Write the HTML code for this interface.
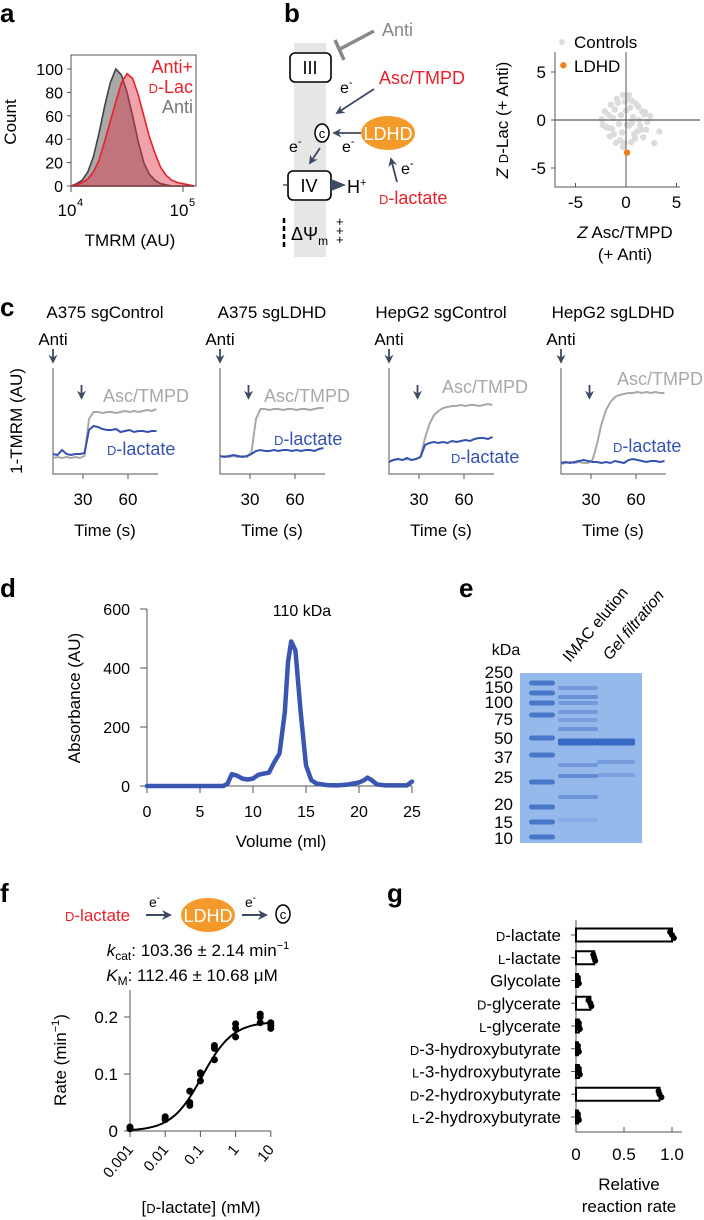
<!DOCTYPE html>
<html><head><meta charset="utf-8"><style>
html,body{margin:0;padding:0;background:#fff}
svg{display:block;font-family:"Liberation Sans",Arial,sans-serif}
</style></head><body>
<svg id="fig" width="704" height="1220" viewBox="0 0 704 1220">
<defs>
<marker id="ah" viewBox="0 0 10 10" refX="8" refY="5" markerWidth="5" markerHeight="5" orient="auto"><path d="M0,0 L10,5 L0,10 L3,5 z" fill="#3d4a63"/></marker>
</defs>
<g font-weight="bold" font-size="26" fill="#000">
<text x="0" y="22">a</text>
<text x="284" y="22">b</text>
<text x="0" y="316">c</text>
<text x="0" y="597">d</text>
<text x="459" y="597">e</text>
<text x="0" y="902">f</text>
<text x="387" y="902">g</text>
</g>

<g id="pa" font-size="16">
<text x="193" y="73" text-anchor="end" fill="#e8202a" font-size="18">Anti+</text>
<text x="193" y="93" text-anchor="end" fill="#e8202a" font-size="18"><tspan font-size="13">D</tspan>-Lac</text>
<text x="193" y="113" text-anchor="end" fill="#777" font-size="18">Anti</text>
<text x="130" y="246" text-anchor="middle" font-size="17">TMRM (AU)</text>
<text transform="translate(16,122) rotate(-90)" text-anchor="middle" font-size="17">Count</text>
</g>

<g id="pb" font-size="18">
<rect x="294" y="43" width="32" height="214" fill="#e6e6e6"/>
<rect x="290" y="53" width="41" height="29" rx="5" fill="#fff" stroke="#000" stroke-width="1.6"/>
<text x="310" y="74" text-anchor="middle">III</text>
<rect x="288" y="171" width="43" height="29" rx="5" fill="#fff" stroke="#000" stroke-width="1.6"/>
<text x="309" y="192" text-anchor="middle">IV</text>
<line x1="283" y1="185" x2="288" y2="185" stroke="#333" stroke-width="1.2"/>
<text x="382" y="36" fill="#888">Anti</text>
<line x1="374" y1="31" x2="340" y2="49" stroke="#888" stroke-width="3.5"/>
<line x1="335" y1="40" x2="344" y2="60" stroke="#888" stroke-width="3.5"/>
<text x="379" y="84" fill="#e8202a">Asc/TMPD</text>
<text x="340" y="93" font-size="16">e<tspan dy="-7" font-size="11">-</tspan></text>
<line x1="374" y1="89" x2="337" y2="113" stroke="#3d4a63" stroke-width="1.8" marker-end="url(#ah)"/>
<ellipse cx="322" cy="133" rx="7" ry="9" fill="#fff" stroke="#000" stroke-width="1.5"/>
<text x="322" y="138" text-anchor="middle" font-size="13">c</text>
<ellipse cx="388" cy="133" rx="27" ry="17" fill="#f39a2b"/>
<text x="388" y="140" text-anchor="middle" fill="#fff">LDHD</text>
<line x1="361" y1="133" x2="334" y2="133" stroke="#3d4a63" stroke-width="1.8" marker-end="url(#ah)"/>
<text x="289" y="152" font-size="16">e<tspan dy="-7" font-size="11">-</tspan></text>
<text x="342" y="152" font-size="16">e<tspan dy="-7" font-size="11">-</tspan></text>
<line x1="320" y1="148" x2="310" y2="163" stroke="#3d4a63" stroke-width="1.8" marker-end="url(#ah)"/>
<text x="401" y="174" font-size="16">e<tspan dy="-7" font-size="11">-</tspan></text>
<line x1="397" y1="182" x2="391" y2="159" stroke="#3d4a63" stroke-width="1.8" marker-end="url(#ah)"/>
<text x="379" y="204" fill="#e8202a"><tspan font-size="13">D</tspan>-lactate</text>
<path d="M331,179 L346,185 L331,191 z" fill="#3d4a63"/>
<text x="347" y="193">H<tspan dy="-7" font-size="11">+</tspan></text>
<line x1="284" y1="218" x2="284" y2="248" stroke="#000" stroke-width="2.5" stroke-dasharray="5,3"/>
<text x="291" y="240">ΔΨ<tspan dy="5" font-size="12">m</tspan></text>
<text x="336" y="226" font-size="13">+</text>
<text x="336" y="235" font-size="13">+</text>
<text x="336" y="244" font-size="13">+</text>
</g>

<g id="psc" font-size="17">
<circle cx="562" cy="42" r="3" fill="#ddd"/>
<text x="574" y="48">Controls</text>
<text x="574" y="72">LDHD</text>
<text transform="translate(508,120) rotate(-90)" text-anchor="middle"><tspan font-style="italic">Z</tspan> <tspan font-size="13">D</tspan>-Lac (+ Anti)</text>
<text x="625" y="238" text-anchor="middle"><tspan font-style="italic">Z</tspan> Asc/TMPD</text>
<text x="625" y="260" text-anchor="middle">(+ Anti)</text>
</g>

<g id="pc" font-size="17">
<text transform="translate(22,421) rotate(-90)" text-anchor="middle">1-TMRM (AU)</text>
</g>

<g id="pd" font-size="16">
<text x="302" y="616" text-anchor="middle">110 kDa</text>
<text x="281" y="847" text-anchor="middle" font-size="17">Volume (ml)</text>
<text transform="translate(80,698) rotate(-90)" text-anchor="middle" font-size="17">Absorbance (AU)</text>
</g>

<g id="pe" font-size="16">
<rect x="520" y="673" width="122" height="170" fill="#95b9ea"/>
<text x="506" y="655" text-anchor="middle">kDa</text>
<text transform="translate(570,663) rotate(-50)">IMAC elution</text>
<text transform="translate(610,661) rotate(-50)" font-style="italic">Gel filtration</text>
</g>

<g id="pf" font-size="17">
<text x="65" y="921" fill="#e8202a"><tspan font-size="13">D</tspan>-lactate</text>
<line x1="146" y1="915" x2="170" y2="915" stroke="#3d4a63" stroke-width="2" marker-end="url(#ah)"/>
<text x="149" y="907" font-size="14">e<tspan dy="-6" font-size="10">-</tspan></text>
<ellipse cx="208" cy="915" rx="27" ry="17" fill="#f39a2b"/>
<text x="208" y="922" text-anchor="middle" fill="#fff" font-size="18">LDHD</text>
<line x1="242" y1="915" x2="266" y2="915" stroke="#3d4a63" stroke-width="2" marker-end="url(#ah)"/>
<text x="245" y="907" font-size="14">e<tspan dy="-6" font-size="10">-</tspan></text>
<ellipse cx="283" cy="914" rx="7" ry="9" fill="#fff" stroke="#000" stroke-width="1.5"/>
<text x="283" y="919" text-anchor="middle" font-size="13">c</text>
<text x="198" y="956" text-anchor="middle"><tspan font-style="italic">k</tspan><tspan dy="4" font-size="12">cat</tspan><tspan dy="-4">: 103.36 ± 2.14 min</tspan><tspan dy="-7" font-size="11">−1</tspan></text>
<text x="192" y="981" text-anchor="middle"><tspan font-style="italic">K</tspan><tspan dy="4" font-size="12">M</tspan><tspan dy="-4">: 112.46 ± 10.68 μM</tspan></text>
<text x="201" y="1213" text-anchor="middle">[<tspan font-size="13">D</tspan>-lactate] (mM)</text>
<text transform="translate(66,1060) rotate(-90)" text-anchor="middle">Rate (min<tspan dy="-7" font-size="11">−1</tspan><tspan dy="7">)</tspan></text>
</g>

<g id="pg" font-size="17">
<text x="629" y="1190" text-anchor="middle">Relative</text>
<text x="629" y="1212" text-anchor="middle">reaction rate</text>
</g>
</svg>
<script>
// panel a
const histBins = [4.0,4.05,4.1,4.15,4.2,4.25,4.3,4.35,4.4,4.45,4.5,4.55,4.6,4.65,4.7,4.75,4.8,4.85,4.9,4.95,5.0,5.05,5.1];
const histAnti = [0,2,5,12,25,45,68,88,100,95,80,60,38,20,10,5,2,1,0,0,0,0,0];
const histAntiDLac = [0,1,3,6,12,22,38,55,72,88,96,92,78,60,42,28,16,9,5,3,2,1,0];
const histYTicks = [0,20,40,60,80,100];
// panel b scatter
const ctrlX = [-2.4,-2.1,-1.8,-1.5,-1.2,-0.9,-0.6,-0.3,0,0.3,0.6,0.9,1.2,1.5,1.8,2.1,-2.0,-1.6,-1.1,-0.7,-0.2,0.2,0.7,1.1,1.6,2.0,-1.7,-1.3,-0.8,-0.4,0.1,0.5,1.0,1.4,1.9,-1.0,-0.5,0.4,0.8,1.3,-1.4,-0.1,0.6,3.3,2.8,-0.3,0.3,-2.3,2.4,1.7];
const ctrlY = [0.1,0.9,-0.8,1.6,-1.5,2.2,-2.1,2.6,1.0,-0.6,2.0,-1.9,1.4,-1.0,0.6,-0.2,-0.7,-1.7,1.1,-0.4,-2.4,2.2,0.3,-1.2,0.9,-1.0,0.5,0.2,1.8,-1.3,-0.5,-2.3,1.7,-0.6,0.8,-2.4,0.5,1.3,-1.5,0.0,-0.9,1.9,-0.3,-1.2,-2.4,-2.8,2.6,-0.5,0.4,-1.8];
const ldhdX = [-6.2,0.1];
const ldhdY = [5.7,-3.4];
const scYTicks = [-5,0,5];
const scXTicks = [-5,0,5];
// panel c
const cTitles = ["A375 sgControl","A375 sgLDHD","HepG2 sgControl","HepG2 sgLDHD"];
const cTime = [10,13,16,19,22,25,28,31,34,37,40,43,46,49,52,55,58,61,64,67,70,73,76,79];
const ascTmpd = [
 [.16,.17,.16,.17,.16,.17,.16,.18,.55,.62,.62,.61,.62,.62,.61,.62,.63,.62,.63,.62,.63,.64,.63,.65],
 [.17,.18,.17,.18,.17,.18,.17,.22,.55,.65,.65,.64,.65,.65,.64,.65,.65,.64,.65,.65,.64,.65,.66,.66],
 [.13,.14,.15,.14,.15,.14,.15,.17,.36,.5,.59,.63,.66,.67,.68,.68,.69,.68,.69,.69,.68,.69,.70,.69],
 [.1,.11,.12,.11,.12,.11,.11,.14,.3,.5,.64,.72,.77,.79,.8,.81,.81,.82,.81,.82,.81,.82,.81,.81]];
const dLactate = [
 [.2,.19,.24,.2,.19,.2,.2,.21,.44,.48,.47,.45,.44,.44,.45,.42,.43,.44,.42,.43,.43,.42,.43,.43],
 [.18,.17,.18,.19,.18,.17,.18,.2,.23,.24,.23,.23,.24,.23,.24,.24,.23,.24,.23,.24,.24,.23,.25,.26],
 [.12,.14,.15,.14,.16,.14,.15,.17,.29,.31,.32,.31,.32,.31,.33,.32,.33,.34,.33,.35,.36,.36,.35,.37],
 [.11,.12,.11,.12,.13,.14,.13,.12,.12,.11,.12,.11,.13,.12,.11,.14,.15,.14,.13,.12,.13,.13,.12,.13]];
const cXTicks = [30,60];
// panel d
const volume = [0,2,4,6,7.2,7.6,8,8.5,9,9.5,10,10.5,11,11.5,12,12.5,13,13.3,13.6,14,14.5,15,15.5,16,17,18,19,20,20.5,20.8,21.2,21.7,22.5,24.5,25];
const absorb = [0,0,0,0,0,8,40,35,25,22,25,38,42,45,80,110,250,420,490,460,250,70,20,8,3,2,5,12,20,28,20,5,2,2,15];
const dXTicks = [0,5,10,15,20,25];
const dYTicks = [0,200,400,600];
// panel e
const markerKDa = ["250","150","100","75","50","37","25","20","15","10"];
const markerLabelY = [672,687,702,719,738,757,777,804,822,838];
const ladderBandY = [683,693,703,715,738,755,782,807,822,837];
const imacBandY = [688,697,703,712,720,729,742,765,776,797,820];
const imacBandAlpha = [.35,.45,.35,.35,.3,.4,.9,.35,.5,.4,.15];
const gfBandY = [742,762,775];
const gfBandAlpha = [.9,.3,.25];
// panel f
const conc = [0.001,0.001,0.001,0.01,0.01,0.01,0.05,0.05,0.05,0.1,0.1,0.1,0.25,0.25,0.25,1,1,1,5,5,5,10,10,10];
const rate = [.005,.007,.004,.02,.025,.022,.045,.05,.07,.088,.1,.102,.125,.145,.15,.165,.18,.188,.19,.2,.205,.18,.185,.19];
const fitVmax = [0.192];
const fitKm = [0.112];
const fXTicks = [0.001,0.01,0.1,1,10];
const fXTickLabels = ["0.001","0.01","0.1","1","10"];
const fYTicks = [0,0.1,0.2];
// panel g
const substrates = [["D","-lactate"],["L","-lactate"],["","Glycolate"],["D","-glycerate"],["L","-glycerate"],["D","-3-hydroxybutyrate"],["L","-3-hydroxybutyrate"],["D","-2-hydroxybutyrate"],["L","-2-hydroxybutyrate"]];
const relRate = [1.0,0.19,0.02,0.15,0.03,0.02,0.03,0.87,0.02];
const relReps = [[0.98,1.0,1.02],[0.18,0.19,0.2],[0.02,0.02,0.03],[0.13,0.15,0.16],[0.03,0.03,0.04],[0.02,0.02,0.03],[0.03,0.03,0.04],[0.86,0.87,0.89],[0.02,0.02,0.03]];
const gXTicks = [0,0.5,1.0];
const gXTickLabels = ["0","0.5","1.0"];

const NS = "http://www.w3.org/2000/svg";
function mk(parent, tag, attrs, txt){
  const el = document.createElementNS(NS, tag);
  for (const k in attrs) el.setAttribute(k, attrs[k]);
  if (txt !== undefined) el.textContent = txt;
  parent.appendChild(el);
  return el;
}
const g = id => document.getElementById(id);
let el;

// panel a
const pa = g('pa');
const ax = v => 71 + (v - 4) * 112;
const ay = v => 186 - v * 1.17;
function histPath(vals){
  let d = `M${ax(histBins[0])},${ay(0)}`;
  for (let i=0;i<histBins.length;i++) d += ` L${ax(histBins[i]).toFixed(1)},${ay(vals[i]).toFixed(1)}`;
  d += ` L${ax(histBins[histBins.length-1])},${ay(0)} Z`;
  return d;
}
el = mk(pa,'path',{d:histPath(histAnti),fill:'#a9a9a9',stroke:'#444',"stroke-width":1.6});


el = mk(pa,'path',{d:histPath(histAntiDLac),fill:'rgba(225,50,70,0.45)',stroke:'#e8202a',"stroke-width":1.6});


el = mk(pa,'rect',{x:71,y:55,width:125,height:131,fill:'none',stroke:'#555',"stroke-width":1});


histYTicks.forEach(t=>{
  el = mk(pa,'line',{x1:67,x2:71,y1:ay(t),y2:ay(t),stroke:'#555'});
  
  
  el = mk(pa,'text',{x:63,y:ay(t)+6,"text-anchor":'end'},String(t));
  
  
});
[4,5].forEach(p=>{
  el = mk(pa,'line',{x1:ax(p),x2:ax(p),y1:186,y2:192,stroke:'#555'});
  
  
  el = mk(pa,'text',{x:ax(p)-4,y:216,"text-anchor":'middle',"font-size":17},'10');
  
  
  el = mk(pa,'text',{x:ax(p)+6,y:206,"font-size":11},String(p));
  
  
});

// panel b scatter
const psc = g('psc');
const sx = v => 626 + v * 10.1;
const sy = v => 120 - v * 9.6;
ctrlX.forEach((v,i)=>{
  el = mk(psc,'circle',{cx:sx(v),cy:sy(ctrlY[i]),r:3.2,fill:'#dcdcdc'});
  
  
});
el = mk(psc,'line',{x1:555,x2:700,y1:sy(0),y2:sy(0),stroke:'#777',"stroke-width":1.5});


el = mk(psc,'line',{x1:sx(0),x2:sx(0),y1:52,y2:187,stroke:'#555',"stroke-width":1});


el = mk(psc,'polyline',{points:'555,52 555,187 680,187',fill:'none',stroke:'#555'});


ldhdX.forEach((v,i)=>{
  el = mk(psc,'circle',{cx:sx(v),cy:sy(ldhdY[i]),r:3.2,fill:'#f07e1c'});
  
  
});
scYTicks.forEach(t=>{
  el = mk(psc,'line',{x1:551,x2:555,y1:sy(t),y2:sy(t),stroke:'#555'});
  
  
  el = mk(psc,'text',{x:546,y:sy(t)+6,"text-anchor":'end'},String(t));
  
  
});
scXTicks.forEach(t=>{
  el = mk(psc,'line',{x1:sx(t),x2:sx(t),y1:187,y2:183,stroke:'#555'});
  
  
  el = mk(psc,'text',{x:sx(t),y:208,"text-anchor":'middle'},String(t));
  
  
});

// panel c
const pc = g('pc');
const cLeft = [53,220,389,561];
const ascLbl = [[103,402],[264,402],[442,393],[617,385]];
const dlLbl = [[107,455],[274,445],[451,463],[613,452]];
cTitles.forEach((ttl,k)=>{
  const L = cLeft[k];
  const cx = t => L + (t - 10) * 1.5;
  const cy = v => 474 - v * 100;
  el = mk(pc,'text',{x:L+52,y:318,"text-anchor":'middle'},ttl);
  
  
  el = mk(pc,'text',{x:L,y:345,"text-anchor":'middle'},'Anti');
  
  
  el = mk(pc,'line',{x1:L,x2:L,y1:349,y2:362,stroke:'#3d4a63',"stroke-width":1.8,"marker-end":'url(#ah)'});
  
  
  el = mk(pc,'line',{x1:cx(29),x2:cx(29),y1:385,y2:398,stroke:'#3d4a63',"stroke-width":1.8,"marker-end":'url(#ah)'});
  
  
  el = mk(pc,'polyline',{points:`${L},368 ${L},474 ${L+105},474`,fill:'none',stroke:'#555'});
  
  
  cXTicks.forEach(t=>{
    el = mk(pc,'line',{x1:cx(t),x2:cx(t),y1:474,y2:479,stroke:'#555'});
    
    
    el = mk(pc,'text',{x:cx(t),y:505,"text-anchor":'middle'},String(t));
    
    
  });
  el = mk(pc,'text',{x:L+52,y:536,"text-anchor":'middle'},'Time (s)');
  
  
  el = mk(pc,'polyline',{points:cTime.map((t,i)=>`${cx(t).toFixed(1)},${cy(ascTmpd[k][i]).toFixed(1)}`).join(' '),fill:'none',stroke:'#a8a8a8',"stroke-width":2});
  
  
  el = mk(pc,'polyline',{points:cTime.map((t,i)=>`${cx(t).toFixed(1)},${cy(dLactate[k][i]).toFixed(1)}`).join(' '),fill:'none',stroke:'#3652b0',"stroke-width":2});
  
  
  el = mk(pc,'text',{x:ascLbl[k][0],y:ascLbl[k][1],fill:'#a8a8a8',"font-size":18},'Asc/TMPD');
  
  
  el = mk(pc,'text',{x:dlLbl[k][0],y:dlLbl[k][1],fill:'#3652b0',"font-size":18});
  el.innerHTML = '<tspan font-size="13">D</tspan>-lactate';
  
  
});

// panel d
const pd = g('pd');
const dx = v => 147 + v * 10.6;
const dy = v => 786 - v * 0.295;
el = mk(pd,'polyline',{points:'147,609 147,786 412,786',fill:'none',stroke:'#555'});


dYTicks.forEach(t=>{
  el = mk(pd,'line',{x1:140,x2:147,y1:dy(t),y2:dy(t),stroke:'#555'});
  
  
  el = mk(pd,'text',{x:130,y:dy(t)+6,"text-anchor":'end'},String(t));
  
  
});
dXTicks.forEach(t=>{
  el = mk(pd,'line',{x1:dx(t),x2:dx(t),y1:786,y2:793,stroke:'#555'});
  
  
  el = mk(pd,'text',{x:dx(t),y:817,"text-anchor":'middle'},String(t));
  
  
});
el = mk(pd,'polyline',{points:volume.map((v,i)=>`${dx(v).toFixed(1)},${dy(absorb[i]).toFixed(1)}`).join(' '),fill:'none',stroke:'#3a56b0',"stroke-width":4.5,"stroke-linejoin":'round',"stroke-linecap":'round'});



// panel e
const pe = g('pe');
markerKDa.forEach((m,i)=>{
  el = mk(pe,'text',{x:513,y:markerLabelY[i]+6,"text-anchor":'end',"font-size":17},m);
  
  
});
ladderBandY.forEach(y=>{
  el = mk(pe,'rect',{x:529,y:y-2.5,width:26,height:5,rx:2.5,fill:'#3c6cc6',opacity:0.85});
  
  
});
imacBandY.forEach((y,i)=>{
  el = mk(pe,'rect',{x:558,y:y-(i===6?3.5:2),width:40,height:(i===6?7:4),rx:2,fill:'#2f5fc0',opacity:imacBandAlpha[i]});
  
  
});
gfBandY.forEach((y,i)=>{
  el = mk(pe,'rect',{x:597,y:y-(i===0?3.5:2),width:38,height:(i===0?7:4),rx:2,fill:'#2f5fc0',opacity:gfBandAlpha[i]});
  
  
});

// panel f
const pf = g('pf');
const fx = v => 130 + (Math.log10(v) + 3) * 35.2;
const fy = v => 1131 - v * 570;
el = mk(pf,'polyline',{points:`130,990 130,1131 ${fx(10)},1131`,fill:'none',stroke:'#555'});


fYTicks.forEach(t=>{
  el = mk(pf,'line',{x1:124,x2:130,y1:fy(t),y2:fy(t),stroke:'#555'});
  
  
  el = mk(pf,'text',{x:118,y:fy(t)+6,"text-anchor":'end'},String(t));
  
  
});
fXTicks.forEach((t,i)=>{
  el = mk(pf,'line',{x1:fx(t),x2:fx(t),y1:1131,y2:1137,stroke:'#555'});
  
  
  el = mk(pf,'text',{transform:`translate(${fx(t)+4},${1150}) rotate(-50)`,"text-anchor":'end',"font-size":15},fXTickLabels[i]);
  
  
});
let fitPts = [];
for (let e=-3; e<=1.0001; e+=0.05){ const c = Math.pow(10,e); fitPts.push(`${fx(c).toFixed(1)},${fy(fitVmax[0]*c/(fitKm[0]+c)).toFixed(1)}`); }
el = mk(pf,'polyline',{points:fitPts.join(' '),fill:'none',stroke:'#000',"stroke-width":2});


conc.forEach((c,i)=>{
  el = mk(pf,'circle',{cx:fx(c),cy:fy(rate[i]),r:3.5,fill:'#000'});
  
  
});

// panel g
const pg = g('pg');
const gx = v => 576 + v * 96;
const gy = i => 935 + i * 22.75;
el = mk(pg,'polyline',{points:'576,920 576,1132 682,1132',fill:'none',stroke:'#555'});


substrates.forEach((s,i)=>{
  el = mk(pg,'text',{x:561,y:gy(i)+6,"text-anchor":'end'});
  el.innerHTML = (s[0]?`<tspan font-size="13">${s[0]}</tspan>`:'') + s[1];
  
  
  el = mk(pg,'line',{x1:571,x2:576,y1:gy(i),y2:gy(i),stroke:'#555'});
  
  
  el = mk(pg,'rect',{x:576,y:gy(i)-6.5,width:Math.max(0,gx(relRate[i])-576),height:13,fill:'#fff',stroke:'#000',"stroke-width":2});
  
  
  relReps[i].forEach((r,j)=>{
    el = mk(pg,'circle',{cx:gx(r),cy:gy(i)+(j-1)*3,r:3,fill:'#000'});
    
    
  });
});
gXTicks.forEach((t,i)=>{
  el = mk(pg,'line',{x1:gx(t),x2:gx(t),y1:1132,y2:1127,stroke:'#555'});
  
  
  el = mk(pg,'text',{x:gx(t),y:1160,"text-anchor":'middle'},gXTickLabels[i]);
  
  
});
</script>
</body></html>
